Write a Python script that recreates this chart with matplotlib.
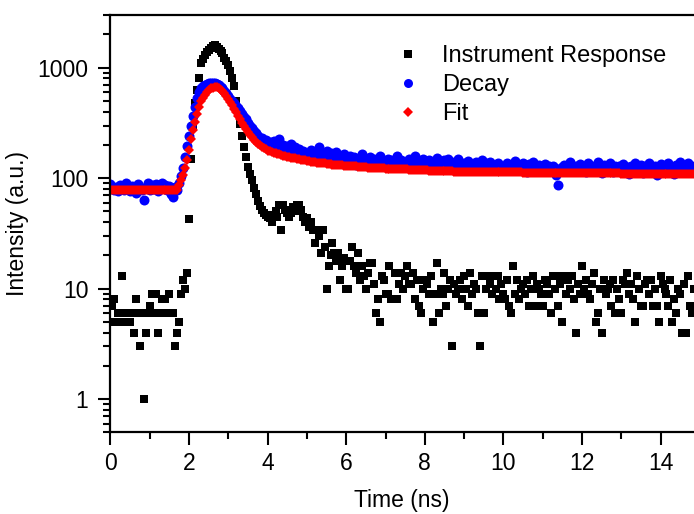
import numpy as np
from matplotlib import pyplot as plt
from matplotlib.ticker import FixedLocator, LogLocator, NullFormatter

plt.rcParams['font.family'] = ['Liberation Sans', 'DejaVu Sans']

CHANNEL_NS = 0.05

# instrument response (counts), one value per channel
irf = [
    5, 7, 8, 5, 6, 5, 13, 6, 5, 6, 5, 6, 4, 8, 6, 3, 6, 1, 4, 6,
    7, 9, 6, 9, 4, 6, 8, 6, 8, 6, 9, 6, 6, 3, 4, 5, 9, 12, 10, 14,
    43, 150, 300, 480, 630, 810, 1100, 1200, 1300, 1380, 1450, 1510, 1560, 1590, 1540, 1490, 1430, 1360, 1230, 1140,
    1050, 940, 810, 680, 500, 390, 310, 240, 190, 156, 127, 110, 96, 82, 72, 62, 56, 52, 48, 46,
    45, 44, 40, 46, 50, 45, 57, 34, 57, 52, 48, 45, 48, 55, 50, 57, 57, 52, 45, 40,
    44, 36, 40, 34, 26, 34, 30, 21, 34, 24, 10, 16, 20, 26, 21, 18, 21, 12, 16, 19,
    10, 10, 18, 24, 16, 14, 21, 12, 16, 13, 10, 14, 17, 17, 11, 6, 8, 5, 13, 12,
    9, 9, 16, 8, 8, 14, 8, 11, 14, 10, 13, 16, 11, 11, 14, 8, 12, 7, 6, 10,
    12, 11, 9, 13, 5, 9, 17, 6, 10, 9, 14, 7, 10, 12, 3, 11, 9, 10, 12, 8,
    13, 10, 7, 14, 9, 11, 10, 6, 3, 13, 6, 10, 13, 11, 9, 13, 10, 13, 8, 11,
    9, 8, 12, 7, 6, 16, 9, 12, 8, 10, 11, 9, 12, 7, 10, 13, 7, 11, 10, 9,
    7, 12, 11, 9, 6, 13, 10, 13, 7, 11, 5, 13, 9, 12, 10, 13, 8, 4, 11, 9,
    16, 10, 12, 9, 8, 11, 14, 5, 6, 10, 4, 12, 9, 10, 11, 7, 12, 6, 10, 8,
    6, 12, 11, 14, 9, 11, 8, 5, 13, 10, 7, 7, 11, 12, 9, 12, 7, 10, 7, 5,
    13, 11, 10, 9, 7, 12, 5, 8, 6, 10, 9, 4, 11, 4, 13, 7, 6, 10,
]

# measured decay (counts)
decay = [
    88, 82, 79, 84, 76, 86, 81, 78, 90, 83, 77, 85, 80, 74, 88, 82, 79, 63, 84, 91,
    78, 86, 80, 89, 76, 84, 90, 81, 87, 79, 85, 72, 68, 83, 78, 90, 105, 125, 155, 195,
    240, 300, 365, 440, 530, 600, 650, 680, 700, 712, 722, 730, 735, 728, 715, 698, 675, 650, 620, 585,
    555, 525, 500, 475, 450, 428, 410, 385, 360, 340, 318, 300, 285, 268, 255, 240, 228, 232, 215, 222,
    205, 212, 198, 218, 190, 205, 225, 185, 200, 180, 195, 175, 205, 172, 190, 168, 185, 165, 178, 160,
    165, 150, 180, 158, 170, 148, 190, 155, 162, 145, 175, 152, 168, 140, 160, 172, 148, 158, 142, 165,
    150, 138, 160, 145, 155, 132, 150, 142, 165, 136, 148, 140, 155, 130, 150, 138, 145, 160, 134, 142,
    128, 150, 136, 145, 130, 140, 158, 133, 146, 128, 140, 135, 150, 126, 145, 160, 132, 140, 128, 148,
    136, 130, 145, 124, 140, 135, 152, 128, 138, 122, 145, 133, 150, 126, 140, 130, 125, 148, 132, 120,
    138, 128, 142, 124, 135, 118, 140, 130, 126, 145, 122, 136, 128, 140, 120, 132, 125, 138, 118, 130,
    127, 124, 138, 120, 132, 126, 142, 118, 130, 122, 136, 128, 115, 134, 124, 140, 120, 128, 132, 118,
    126, 135, 122, 128, 118, 130, 124, 108, 86, 120, 126, 132, 116, 128, 140, 122, 118, 130, 124, 134,
    120, 128, 115, 136, 122, 130, 118, 126, 140, 120, 112, 132, 124, 118, 138, 126, 114, 130, 122, 128,
    116, 134, 120, 126, 110, 130, 124, 138, 118, 122, 132, 112, 128, 120, 136, 116, 126, 130, 108, 124,
    134, 120, 128, 114, 138, 122, 126, 110, 132, 118, 140, 124, 128, 116, 136, 122, 130, 126,
]

# reconvolution fit
fit = [
    78, 78, 78, 78, 78, 78, 78, 78, 78, 78, 78, 78, 78, 78, 78, 78, 78, 78, 78, 78,
    78, 78, 78, 78, 78, 78, 78, 78, 78, 78, 78, 78, 78, 78, 79, 86, 96, 108, 125, 145,
    180, 225, 272, 325, 380, 445, 495, 530, 565, 600, 630, 650, 662, 668, 665, 655, 635, 612, 585, 555,
    522, 490, 457, 425, 395, 368, 342, 318, 297, 278, 262, 247, 234, 223, 213, 205, 198, 192, 187, 182,
    178, 175, 172, 170, 168, 166, 164, 162, 160, 158, 156, 155, 153, 152, 151, 149, 148, 147, 146, 145,
    143, 142, 141, 140, 139, 138, 138, 137, 136, 136, 135, 134, 134, 133, 133, 132, 132, 131, 131, 130,
    130, 129, 129, 128, 128, 128, 127, 127, 127, 126, 126, 125, 125, 125, 124, 124, 124, 123, 123, 123,
    122, 122, 122, 122, 121, 121, 121, 121, 120, 120, 120, 120, 119, 119, 119, 119, 119, 118, 118, 118,
    118, 118, 117, 117, 117, 117, 117, 117, 116, 116, 116, 116, 116, 116, 116, 115, 115, 115, 115, 115,
    115, 115, 115, 115, 115, 114, 114, 114, 114, 114, 114, 114, 114, 114, 114, 113, 113, 113, 113, 113,
    113, 113, 113, 113, 113, 113, 113, 113, 113, 113, 112, 112, 112, 112, 112, 112, 112, 112, 112, 112,
    112, 112, 112, 112, 112, 112, 112, 112, 112, 112, 111, 111, 111, 111, 111, 111, 111, 111, 111, 111,
    111, 111, 111, 111, 111, 111, 111, 111, 111, 111, 111, 111, 111, 111, 111, 111, 111, 111, 111, 111,
    110, 110, 110, 110, 110, 110, 110, 110, 110, 110, 110, 110, 110, 110, 110, 110, 110, 110, 110, 110,
    110, 110, 110, 110, 110, 110, 110, 110, 110, 110, 110, 110, 110, 110, 110, 110, 110, 110,
]

y_ticks = [1, 10, 100, 1000]
y_tick_labels = ['1', '10', '100', '1000']


def main():
    time = np.arange(len(irf)) * CHANNEL_NS

    fig = plt.figure(figsize=(6.94, 5.14), dpi=100)
    ax = fig.add_axes([0.1592, 0.1586, 0.8408, 0.8122])

    ax.plot(time, irf, 's', color='black', ms=6.3, mew=0, label='Instrument Response')
    ax.plot(time, decay, 'o', color='#0000ff', ms=7.2, mew=0, label='Decay')
    ax.plot(time, fit, 'D', color='#ff0000', ms=5.6, mew=0, label='Fit')

    ax.set_yscale('log')
    ax.set_xlim(0, 14.85)
    ax.set_ylim(0.5, 3000)

    ax.set_xticks(np.arange(0, 15, 2))
    ax.xaxis.set_minor_locator(FixedLocator(np.arange(1, 15, 2)))
    ax.set_yticks(y_ticks)
    ax.set_yticklabels(y_tick_labels)
    ax.yaxis.set_minor_locator(LogLocator(base=10, subs=np.arange(2, 10)))
    ax.yaxis.set_minor_formatter(NullFormatter())

    ax.spines['right'].set_visible(False)
    for side in ('left', 'bottom', 'top'):
        ax.spines[side].set_linewidth(1.6)
    ax.tick_params(which='both', direction='out', width=1.5, labelsize=16.5, top=False, right=False)
    ax.tick_params(which='major', length=9)
    ax.tick_params(which='minor', length=5)
    ax.tick_params(axis='x', pad=5)
    ax.tick_params(axis='y', pad=7)

    ax.set_xlabel('Time (ns)', fontsize=16.5)
    ax.set_ylabel('Intensity (a.u.)', fontsize=16.5)
    ax.xaxis.set_label_coords(0.5, -0.135)
    ax.yaxis.set_label_coords(-0.14, 0.5)

    ax.legend(loc='upper left', bbox_to_anchor=(396 / 694, 1 - 45 / 514),
              bbox_transform=fig.transFigure, frameon=False, fontsize=17,
              handlelength=1.0, handletextpad=0.95, labelspacing=0.3,
              borderpad=0, borderaxespad=0, markerscale=0.9, numpoints=1)

    fig.savefig('out.png')
    plt.close(fig)


if __name__ == '__main__':
    main()
